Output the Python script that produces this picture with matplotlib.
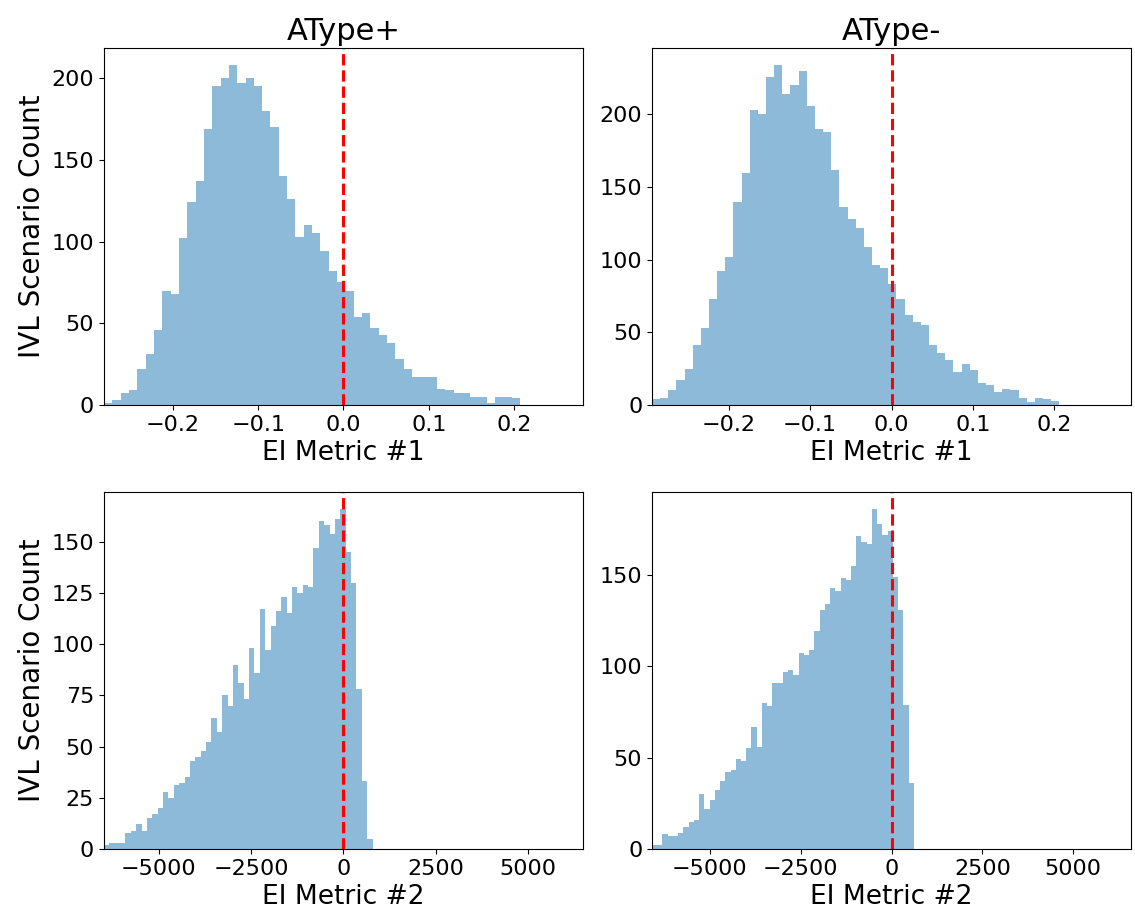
import matplotlib.pyplot as plt
from matplotlib.ticker import MultipleLocator
import numpy as np

# Histogram counts per bin (50 equal-width bins between each data min and max)
atype_pos_m1 = [1, 3, 7, 9, 22, 31, 46, 70, 68, 102,
                124, 137, 169, 195, 200, 208, 197, 200, 195, 180,
                170, 140, 126, 103, 110, 105, 94, 82, 75, 70,
                54, 56, 47, 43, 38, 28, 22, 17, 17, 17,
                10, 9, 7, 7, 5, 5, 1, 5, 5, 4]
atype_neg_m1 = [4, 5, 10, 17, 25, 41, 53, 73, 92, 102,
                140, 160, 203, 200, 226, 234, 214, 220, 230, 206,
                190, 188, 162, 136, 128, 122, 109, 96, 94, 83,
                73, 62, 57, 55, 41, 36, 31, 23, 28, 24,
                15, 14, 9, 11, 10, 5, 2, 5, 4, 3]
atype_pos_m2 = [2, 3, 3, 3, 8, 9, 12, 9, 15, 17,
                20, 28, 25, 31, 32, 35, 43, 45, 48, 52,
                64, 57, 75, 70, 90, 81, 73, 98, 86, 117,
                97, 109, 116, 123, 115, 128, 125, 129, 128, 147,
                160, 158, 154, 161, 166, 145, 130, 78, 33, 5]
atype_neg_m2 = [2, 2, 8, 7, 7, 9, 12, 15, 16, 30,
                22, 27, 32, 37, 42, 43, 49, 48, 55, 67,
                56, 80, 78, 91, 91, 97, 98, 95, 107, 106,
                109, 119, 131, 134, 143, 141, 148, 147, 155, 171,
                168, 167, 186, 178, 172, 174, 149, 131, 79, 36]

# (min, max) of each metric
range_pos_m1 = (-0.281, 0.2074)
range_neg_m1 = (-0.294, 0.206)
range_pos_m2 = (-6486, 788)
range_neg_m2 = (-6588, 614)

titles = ['AType+', 'AType-']
xlabels = ['EI Metric #1', 'EI Metric #2']
ylabel = 'IVL Scenario Count'

panels = [
    [(atype_pos_m1, range_pos_m1), (atype_neg_m1, range_neg_m1)],
    [(atype_pos_m2, range_pos_m2), (atype_neg_m2, range_neg_m2)],
]
xtick_step = [0.1, 2500]
ytick_step = [[50, 50], [25, 50]]

fig, axes = plt.subplots(2, 2, figsize=(11.35, 9.11), dpi=100)
fig.subplots_adjust(left=0.0916, right=0.9965, top=0.9473, bottom=0.0681,
                    wspace=0.144, hspace=0.244)

for r in range(2):
    for c in range(2):
        ax = axes[r, c]
        counts, (lo, hi) = panels[r][c]
        edges = np.linspace(lo, hi, len(counts) + 1)
        ax.hist(edges[:-1], bins=edges, weights=counts, color='C0', alpha=0.5)
        ax.axvline(0, color='red', linestyle='--', linewidth=2.2)
        m = max(abs(lo), abs(hi))
        ax.set_xlim(-m, m)
        ax.xaxis.set_major_locator(MultipleLocator(xtick_step[r]))
        ax.yaxis.set_major_locator(MultipleLocator(ytick_step[r][c]))
        ax.set_xlabel(xlabels[r], fontsize=19)
        ax.tick_params(labelsize=16)
        if r == 0:
            ax.set_title(titles[c], fontsize=22)
        if c == 0:
            ax.set_ylabel(ylabel, fontsize=20)

plt.savefig('out.png', dpi=100)
